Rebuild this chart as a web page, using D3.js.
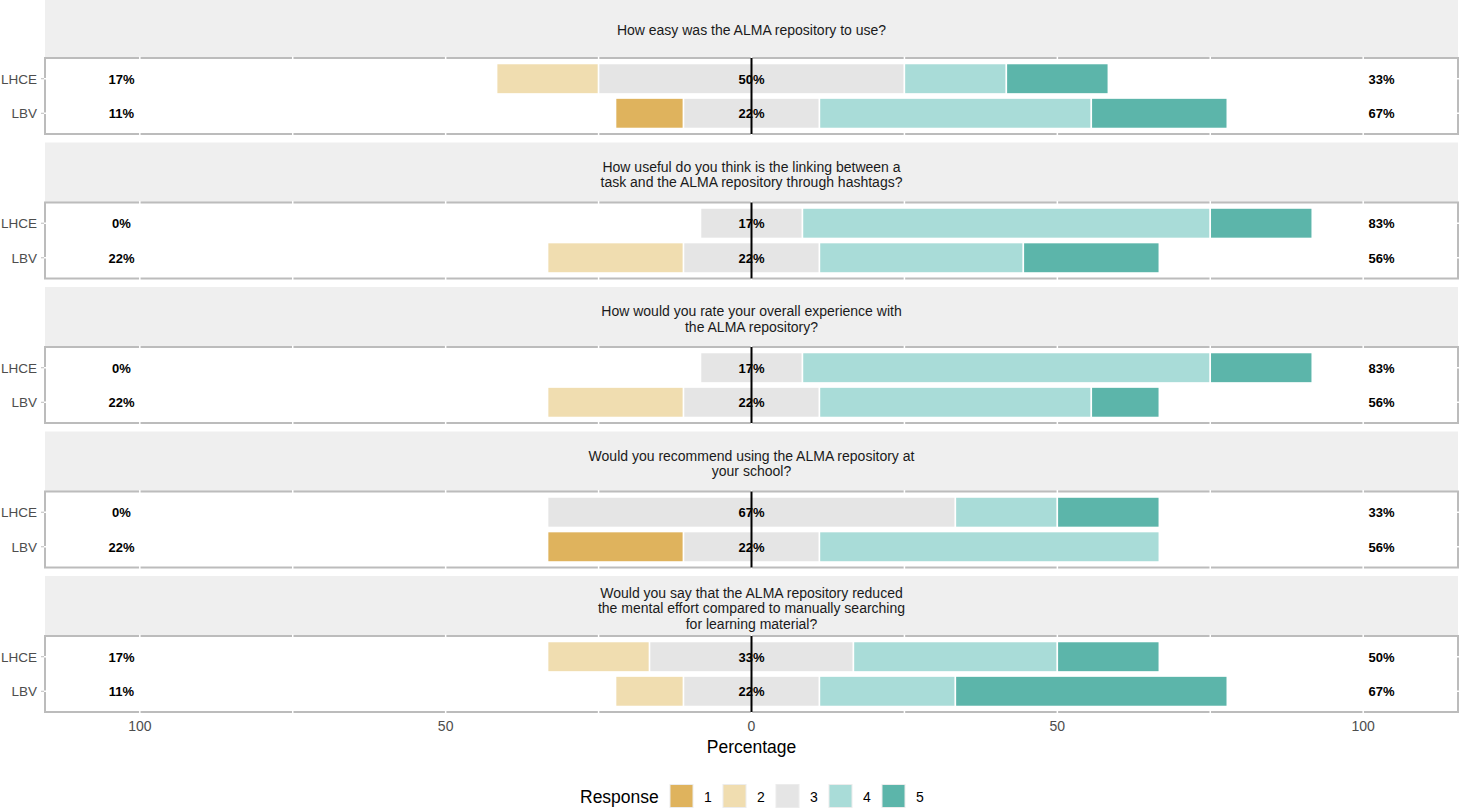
<!DOCTYPE html>
<html>
<head>
<meta charset="utf-8">
<script src="https://cdn.jsdelivr.net/npm/d3@7"></script>
<style>
  body { margin: 0; background: #fff; }
  svg { font-family: "Liberation Sans", Arial, sans-serif; display: block; }
</style>
</head>
<body>
<div id="chart"></div>
<script>
// Survey questions (facet strips), line breaks as in the original
const questions = [
  ["How easy was the ALMA repository to use?"],
  ["How useful do you think is the linking between a", "task and the ALMA repository through hashtags?"],
  ["How would you rate your overall experience with", "the ALMA repository?"],
  ["Would you recommend using the ALMA repository at", "your school?"],
  ["Would you say that the ALMA repository reduced", "the mental effort compared to manually searching", "for learning material?"]
]
const groups = ["LHCE", "LBV"]
const responses = ["1", "2", "3", "4", "5"]
const groupSize = { LHCE: 6, LBV: 9 }

// answer counts per question for responses 1..5
const countsLHCE = [
  [0, 1, 3, 1, 1],
  [0, 0, 1, 4, 1],
  [0, 0, 1, 4, 1],
  [0, 0, 4, 1, 1],
  [0, 1, 2, 2, 1]
]
const countsLBV = [
  [1, 0, 2, 4, 2],
  [0, 2, 2, 3, 2],
  [0, 2, 2, 4, 1],
  [2, 0, 2, 5, 0],
  [0, 1, 2, 2, 4]
]

const colors = ["#dfb35d", "#f0ddb0", "#e5e5e5", "#a9dcd8", "#5cb5aa"]
const xTicks = [-100, -50, 0, 50, 100]

const width = 1460, height = 809
const stripH = 60, panelH = 76, facetStep = 144.5, offsetTop = -2
const left = 45, right = 1458

const svg = d3.select("#chart").append("svg")
  .attr("width", width)
  .attr("height", height)

const x = d3.scaleLinear().domain([-115.5, 115.5]).range([left, right])
const color = d3.scaleOrdinal(responses, colors)

// build rows: percent per response, stacked around the neutral midpoint
function rowsFor(qi) {
  return groups.map(g => {
    const c = (g === "LHCE" ? countsLHCE : countsLBV)[qi]
    const p = c.map(v => v / groupSize[g] * 100)
    let start = -(p[0] + p[1] + p[2] / 2)
    const segs = p.map((v, i) => {
      const s = { response: responses[i], x0: start, x1: start + v }
      start += v
      return s
    })
    return {
      group: g, segs,
      low: Math.round(p[0] + p[1]),
      mid: Math.round(p[2]),
      high: Math.round(p[3] + p[4])
    }
  })
}

questions.forEach((q, qi) => {
  const top = offsetTop + qi * facetStep
  const pTop = top + stripH
  const g = svg.append("g")

  // strip
  g.append("rect")
    .attr("x", left).attr("y", top)
    .attr("width", right - left).attr("height", stripH)
    .attr("fill", "#efefef")
  g.append("text")
    .attr("x", x(0))
    .attr("y", top + stripH / 2 + 7 - (q.length - 1) * 7.75)
    .attr("text-anchor", "middle")
    .attr("font-size", 14)
    .attr("fill", "#1a1a1a")
    .selectAll("tspan").data(q).join("tspan")
      .attr("x", x(0))
      .attr("dy", (d, i) => i ? 15.5 : 0)
      .text(d => d)

  const y = d3.scalePoint().domain(groups).range([pTop, pTop + panelH]).padding(0.6)
  const barH = y.step() * 0.88

  // panel border
  g.append("rect")
    .attr("x", left).attr("y", pTop)
    .attr("width", right - left).attr("height", panelH)
    .attr("fill", "#fff")
    .attr("stroke", "#bcbcbc")
    .attr("stroke-width", 2)

  // white grid lines cutting through the border
  g.append("g").selectAll("line").data(d3.range(-100, 101, 25)).join("line")
    .attr("x1", d => x(d)).attr("x2", d => x(d))
    .attr("y1", pTop - 1.5).attr("y2", pTop + panelH + 1.5)
    .attr("stroke", "#fff").attr("stroke-width", 1.5)
  g.append("g").selectAll("line").data(groups).join("line")
    .attr("x1", left - 1.5).attr("x2", right + 1.5)
    .attr("y1", d => y(d)).attr("y2", d => y(d))
    .attr("stroke", "#fff").attr("stroke-width", 1.5)

  const rows = rowsFor(qi)
  const row = g.append("g").selectAll("g").data(rows).join("g")

  row.selectAll("rect").data(d => d.segs.filter(s => s.x1 - s.x0 > 0).map(s => ({ ...s, group: d.group }))).join("rect")
    .attr("x", d => x(d.x0))
    .attr("width", d => x(d.x1) - x(d.x0))
    .attr("y", d => y(d.group) - barH / 2)
    .attr("height", barH)
    .attr("fill", d => color(d.response))
    .attr("stroke", "#fff")
    .attr("stroke-width", 1.5)

  const lbl = [["low", -103], ["mid", 0], ["high", 103]]
  lbl.forEach(([k, pos]) => {
    row.append("text")
      .attr("x", x(pos))
      .attr("y", d => y(d.group) + 5)
      .attr("text-anchor", "middle")
      .attr("font-size", 13)
      .attr("font-weight", "bold")
      .attr("fill", "#000")
      .text(d => d[k] + "%")
  })

  // neutral line
  g.append("line")
    .attr("x1", x(0)).attr("x2", x(0))
    .attr("y1", pTop).attr("y2", pTop + panelH)
    .attr("stroke", "#000").attr("stroke-width", 2)

  // y axis labels
  g.append("g").selectAll("text").data(groups).join("text")
    .attr("x", left - 8)
    .attr("y", d => y(d) + 5)
    .attr("text-anchor", "end")
    .attr("font-size", 13.5)
    .attr("fill", "#4d4d4d")
    .text(d => d)
  g.append("g").selectAll("line").data(groups).join("line")
    .attr("x1", left - 4).attr("x2", left - 1)
    .attr("y1", d => y(d)).attr("y2", d => y(d))
    .attr("stroke", "#bcbcbc").attr("stroke-width", 1)
})

// x axis
const axisTop = offsetTop + (questions.length - 1) * facetStep + stripH + panelH
svg.append("g").selectAll("text").data(xTicks).join("text")
  .attr("x", d => x(d))
  .attr("y", axisTop + 19)
  .attr("text-anchor", "middle")
  .attr("font-size", 14)
  .attr("fill", "#4d4d4d")
  .text(d => Math.abs(d))

svg.append("text")
  .attr("x", x(0))
  .attr("y", axisTop + 41)
  .attr("text-anchor", "middle")
  .attr("font-size", 17.5)
  .attr("fill", "#000")
  .text("Percentage")

// legend
const legend = svg.append("g").attr("transform", "translate(580,784.5)")
legend.append("text")
  .attr("x", 0).attr("y", 18)
  .attr("font-size", 17.5)
  .attr("fill", "#000")
  .text("Response")
const item = legend.selectAll("g.item").data(responses).join("g")
  .attr("class", "item")
  .attr("transform", (d, i) => `translate(${90 + i * 53},0)`)
item.append("rect")
  .attr("width", 23).attr("height", 23)
  .attr("fill", d => color(d))
  .attr("stroke", "#ececec").attr("stroke-width", 1)
item.append("text")
  .attr("x", 38).attr("y", 17)
  .attr("text-anchor", "middle")
  .attr("font-size", 14)
  .attr("fill", "#000")
  .text(d => d)
</script>
</body>
</html>
